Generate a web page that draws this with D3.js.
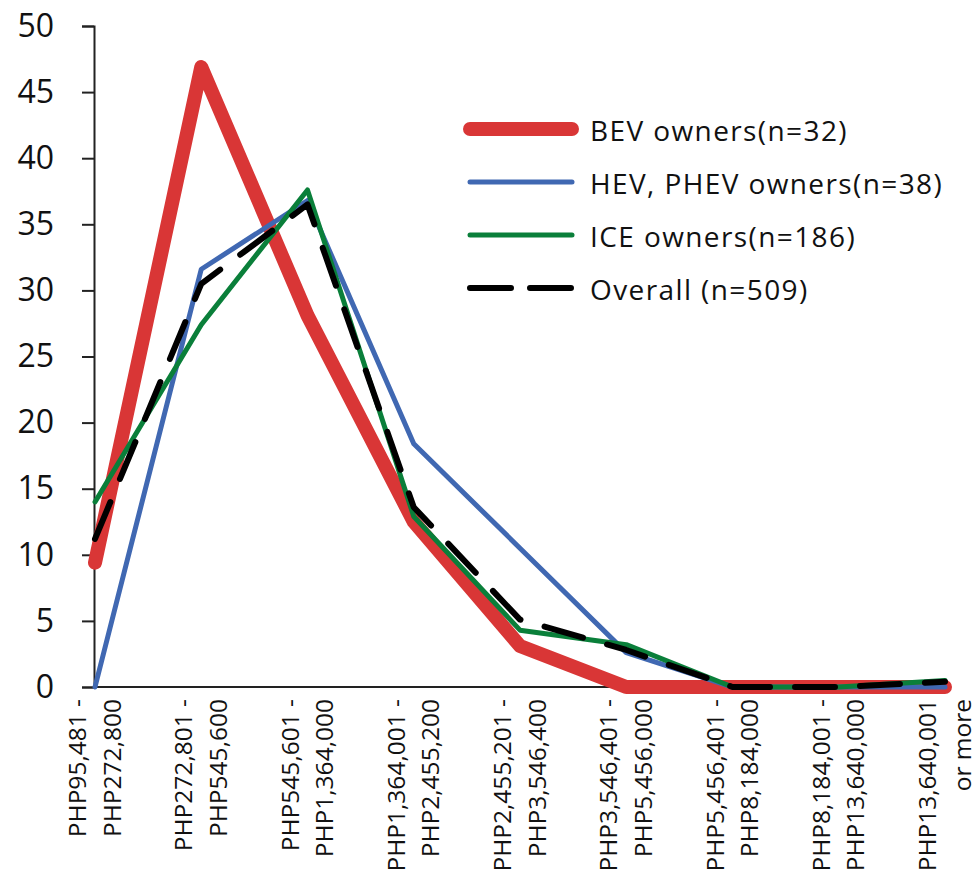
<!DOCTYPE html>
<html>
<head>
<meta charset="utf-8">
<script src="https://cdn.jsdelivr.net/npm/d3@7"></script>
<style>
  html, body { margin: 0; padding: 0; background: #fff; }
  svg { display: block; font-family: "Open Sans", "Noto Sans", sans-serif; }
</style>
</head>
<body>
<svg id="chart" width="978" height="876"></svg>
<script>
// ---- data ----
const categories = [
  ["PHP95,481 -", "PHP272,800"],
  ["PHP272,801 -", "PHP545,600"],
  ["PHP545,601 -", "PHP1,364,000"],
  ["PHP1,364,001 -", "PHP2,455,200"],
  ["PHP2,455,201 -", "PHP3,546,400"],
  ["PHP3,546,401 -", "PHP5,456,000"],
  ["PHP5,456,401 -", "PHP8,184,000"],
  ["PHP8,184,001 -", "PHP13,640,000"],
  ["PHP13,640,001", "or more"]
];
const bevValues     = [9.4, 46.9, 28.1, 12.5, 3.1, 0, 0, 0, 0];
const hevPhevValues = [0, 31.6, 36.8, 18.4, 10.5, 2.6, 0, 0, 0];
const iceValues     = [14.0, 27.4, 37.6, 12.9, 4.3, 3.2, 0, 0, 0.5];
const overallValues = [11.2, 30.5, 36.5, 13.6, 5.1, 2.8, 0, 0, 0.4];
const seriesNames = ["BEV owners(n=32)", "HEV, PHEV owners(n=38)", "ICE owners(n=186)", "Overall (n=509)"];
const yTicks = [0, 5, 10, 15, 20, 25, 30, 35, 40, 45, 50];

// ---- styles ----
const styles = [
  { color: "#D93636", width: 14, dash: null },
  { color: "#4068B2", width: 5, dash: null },
  { color: "#0A7F3A", width: 5, dash: null },
  { color: "#000000", width: 6, dash: "40,25" }
];
const seriesValues = [bevValues, hevPhevValues, iceValues, overallValues];

const svg = d3.select("#chart");
const x = d3.scalePoint().domain(d3.range(categories.length)).range([95, 945]);
const y = d3.scaleLinear().domain([0, 50]).range([687, 26]);

// y axis
const yAxis = d3.axisLeft(y).tickValues(yTicks).tickSize(12).tickPadding(28);
const gy = svg.append("g").attr("transform", "translate(94,0)").call(yAxis);
gy.select(".domain").attr("stroke", "#222").attr("stroke-width", 2);
gy.selectAll(".tick line").attr("stroke", "#222").attr("stroke-width", 2);
gy.selectAll(".tick text").attr("font-size", 32).attr("fill", "#111")
  .attr("font-family", "'Open Sans', sans-serif");

// x axis line
const xAxis = d3.axisBottom(x).tickSize(0).tickFormat("");
const gx = svg.append("g").attr("transform", "translate(0,687)").call(xAxis);
gx.select(".domain").attr("stroke", "#222").attr("stroke-width", 2)
  .attr("d", `M94,0H${x(categories.length - 1)}`);

// x labels (rotated, two lines, anchored at top)
const labelG = svg.append("g");
categories.forEach((lines, i) => {
  const cx = x(i);
  lines.forEach((t, j) => {
    const lx = cx - 17 + j * 34.5;
    labelG.append("text")
      .attr("transform", `translate(${lx + 8},699) rotate(-90)`)
      .attr("text-anchor", "end")
      .attr("font-size", 24.5)
      .attr("fill", "#111")
      .text(t);
  });
});

// lines
const line = d3.line().x((d, i) => x(i)).y(d => y(d));
seriesValues.forEach((vals, k) => {
  const s = styles[k];
  svg.append("path")
    .datum(vals)
    .attr("d", line)
    .attr("fill", "none")
    .attr("stroke", s.color)
    .attr("stroke-width", s.width)
    .attr("stroke-linejoin", "round")
    .attr("stroke-linecap", "round")
    .attr("stroke-dasharray", s.dash);
});

// legend
const legend = svg.append("g");
seriesNames.forEach((name, k) => {
  const s = styles[k];
  const ly = 129 + k * 53;
  legend.append("line")
    .attr("x1", 470).attr("x2", 572).attr("y1", ly).attr("y2", ly)
    .attr("stroke", s.color).attr("stroke-width", s.width)
    .attr("stroke-linecap", "round")
    .attr("stroke-dasharray", s.dash ? "41,19" : null);
  legend.append("text")
    .attr("x", 590).attr("y", ly + 12)
    .attr("font-size", 28).attr("letter-spacing", 1.4).attr("fill", "#111")
    .text(name);
});
</script>
</body>
</html>
